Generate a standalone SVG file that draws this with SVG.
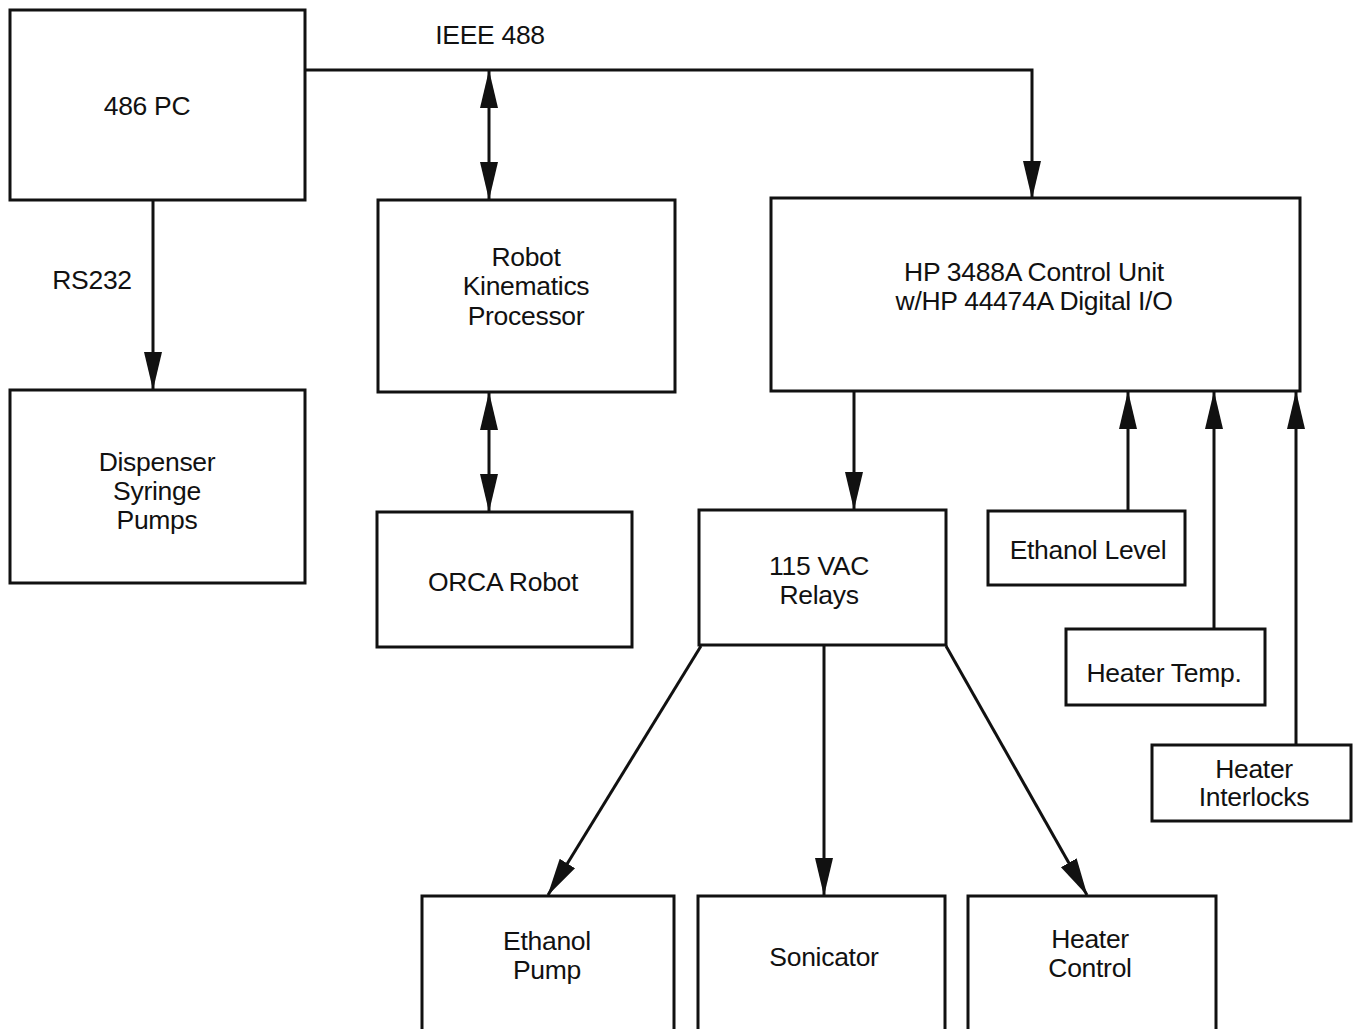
<svg xmlns="http://www.w3.org/2000/svg" width="1353" height="1029" viewBox="0 0 1353 1029">
<style>
.box{fill:#fff;stroke:#111;stroke-width:3}
.t{font-family:"Liberation Sans",Arial,Helvetica,sans-serif;font-size:26.5px;fill:#111;text-anchor:middle;letter-spacing:-0.3px}
.c{fill:none;stroke:#111;stroke-width:3}
</style>
<defs>
<marker id="ah" markerUnits="userSpaceOnUse" markerWidth="38" markerHeight="20" refX="37" refY="10" orient="auto-start-reverse" viewBox="0 0 38 20">
<path d="M0,1 L38,10 L0,19 z" fill="#111"/>
</marker>
</defs>
<rect width="1353" height="1029" fill="#fff"/>
<g id="connectors">
<polyline class="c" points="305,70 1032,70 1032,198" marker-end="url(#ah)"/>
<line class="c" x1="489" y1="71" x2="489" y2="199" marker-start="url(#ah)" marker-end="url(#ah)"/>
<line class="c" x1="489" y1="393" x2="489" y2="511" marker-start="url(#ah)" marker-end="url(#ah)"/>
<line class="c" x1="153" y1="200" x2="153" y2="389" marker-end="url(#ah)"/>
<line class="c" x1="854" y1="391" x2="854" y2="509" marker-end="url(#ah)"/>
<line class="c" x1="1128" y1="511" x2="1128" y2="392" marker-end="url(#ah)"/>
<line class="c" x1="1214" y1="629" x2="1214" y2="392" marker-end="url(#ah)"/>
<line class="c" x1="1296" y1="745" x2="1296" y2="392" marker-end="url(#ah)"/>
<line class="c" x1="701" y1="646" x2="548" y2="895" marker-end="url(#ah)"/>
<line class="c" x1="824" y1="646" x2="824" y2="895" marker-end="url(#ah)"/>
<line class="c" x1="946" y1="646" x2="1087" y2="895" marker-end="url(#ah)"/>
</g>
<g id="pc"><rect class="box" x="10" y="10" width="295" height="190"/><text class="t" x="147" y="115">486 PC</text></g>
<g id="ieee-label"><text class="t" x="490" y="44">IEEE 488</text></g>
<g id="rs232-label"><text class="t" x="92" y="289">RS232</text></g>
<g id="rkp"><rect class="box" x="378" y="200" width="297" height="192"/><text class="t" x="526" y="266">Robot</text><text class="t" x="526" y="295">Kinematics</text><text class="t" x="526" y="325">Processor</text></g>
<g id="hp"><rect class="box" x="771" y="198" width="529" height="193"/><text class="t" x="1034" y="281">HP 3488A Control Unit</text><text class="t" x="1034" y="310">w/HP 44474A Digital I/O</text></g>
<g id="dispenser"><rect class="box" x="10" y="390" width="295" height="193"/><text class="t" x="157" y="471">Dispenser</text><text class="t" x="157" y="500">Syringe</text><text class="t" x="157" y="529">Pumps</text></g>
<g id="orca"><rect class="box" x="377" y="512" width="255" height="135"/><text class="t" x="503" y="591">ORCA Robot</text></g>
<g id="relays"><rect class="box" x="699" y="510" width="247" height="135"/><text class="t" x="819" y="575">115 VAC</text><text class="t" x="819" y="604">Relays</text></g>
<g id="ethlevel"><rect class="box" x="988" y="511" width="197" height="74"/><text class="t" x="1088" y="559">Ethanol Level</text></g>
<g id="heatertemp"><rect class="box" x="1066" y="629" width="199" height="76"/><text class="t" x="1164" y="682">Heater Temp.</text></g>
<g id="interlocks"><rect class="box" x="1152" y="745" width="199" height="76"/><text class="t" x="1254" y="778">Heater</text><text class="t" x="1254" y="806">Interlocks</text></g>
<g id="ethpump"><rect class="box" x="422" y="896" width="252" height="150"/><text class="t" x="547" y="950">Ethanol</text><text class="t" x="547" y="979">Pump</text></g>
<g id="sonicator"><rect class="box" x="698" y="896" width="247" height="150"/><text class="t" x="824" y="966">Sonicator</text></g>
<g id="heatercontrol"><rect class="box" x="968" y="896" width="248" height="150"/><text class="t" x="1090" y="948">Heater</text><text class="t" x="1090" y="977">Control</text></g>
</svg>
